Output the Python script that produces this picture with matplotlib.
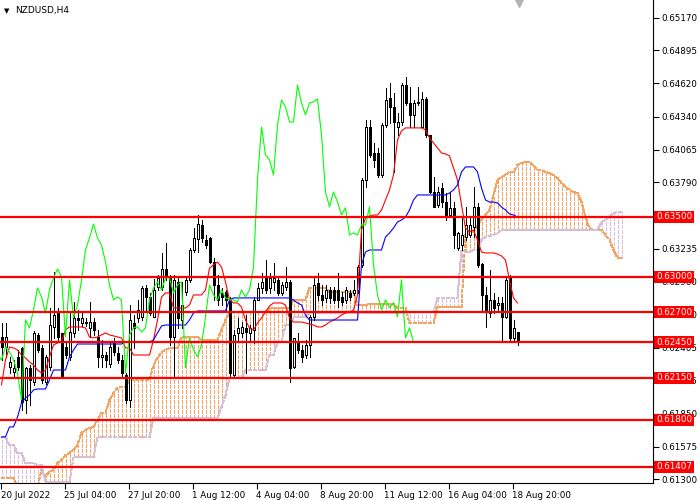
import matplotlib
matplotlib.use("Agg")
import matplotlib.pyplot as plt
import matplotlib.transforms as mtransforms
import numpy as np

# ---------------- data (NZDUSD H4) ----------------
open_ = [
    .62494,.62410,.62243,.62201,.62327,.62403,.61966,.62235,.62117,.62511,
    .62403,.62117,.62243,.62578,.62696,.62528,.62410,.62327,.62528,.62654,
    .62612,.62620,.62570,.62620,.62494,.62327,.62344,.62268,.62452,.62361,
    .62302,.62176,.61966,.62612,.62654,.62662,.62905,.62830,.62662,.62914,
    .62914,.63064,.62989,.62494,.62955,.62637,.62872,.62972,.63224,.63316,
    .63433,.63307,.63324,.63123,.62930,.62863,.62872,.62805,.62176,.62528,
    .62528,.62570,.62528,.62553,.62805,.62905,.62997,.62905,.62955,.62972,
    .62863,.62914,.62955,.62243,.62444,.62386,.62344,.62427,.62662,.62947,
    .62847,.62822,.62888,.62888,.62888,.62830,.62805,.62863,.62863,.62888,
    .63098,.63810,.64254,.64037,.64037,.63852,.64271,.64497,.64422,.64254,
    .64296,.64606,.64455,.64355,.64455,.64254,.64489,.64187,.63709,.63601,
    .63743,.63626,.63517,.63576,.63240,.63265,.63333,.63349,.63416,.63584,
    .63106,.62847,.62696,.62805,.62763,.62780,.62662,.62989,.62486,.62536]
high = [
    .62612,.62612,.62327,.62302,.62386,.62410,.62243,.62260,.62545,.62528,
    .62427,.62344,.62738,.63039,.62738,.62528,.62444,.62696,.62788,.62721,
    .62696,.62654,.62788,.62654,.62553,.62469,.62369,.62452,.62486,.62410,
    .62344,.62193,.62763,.62679,.62805,.62922,.62930,.62863,.62981,.63014,
    .63198,.63282,.63014,.63014,.62989,.62955,.62989,.63240,.63408,.63517,
    .63475,.63349,.63333,.63156,.63014,.62905,.62888,.62830,.62553,.62654,
    .62620,.62679,.62595,.62830,.62947,.63031,.63140,.63031,.63114,.62989,
    .62955,.63081,.62972,.62486,.62528,.62427,.62469,.62679,.62989,.63031,
    .62930,.62930,.62914,.62914,.63031,.62872,.62914,.62888,.62972,.63098,
    .63827,.64313,.64313,.64120,.64078,.64288,.64581,.64623,.64539,.64372,
    .64623,.64673,.64589,.64480,.64589,.64547,.64506,.64187,.63835,.63751,
    .63785,.63701,.63709,.63626,.63374,.63500,.63584,.63500,.63751,.63617,
    .63114,.62914,.63056,.62863,.62830,.62830,.62989,.63014,.62637,.62536]
low = [
    .62302,.62327,.62193,.62159,.62218,.61883,.61858,.61924,.62092,.62369,
    .62109,.62101,.62218,.62486,.62469,.62151,.62319,.62302,.62494,.62553,
    .62587,.62587,.62494,.62511,.62243,.62243,.62243,.62243,.62344,.62277,
    .62159,.61941,.61908,.62403,.62620,.62637,.62721,.62679,.62662,.62888,
    .62888,.62972,.62427,.62159,.62570,.62570,.62847,.62955,.63207,.63207,
    .63290,.63240,.63114,.62805,.62763,.62763,.62721,.62151,.62151,.62469,
    .62494,.62193,.62469,.62444,.62805,.62863,.62863,.62863,.62888,.62847,
    .62847,.62888,.62117,.62235,.62361,.62285,.62319,.62327,.62637,.62805,
    .62763,.62788,.62780,.62780,.62746,.62763,.62780,.62805,.62847,.62863,
    .63081,.63751,.64003,.63919,.63835,.63835,.64254,.64288,.63877,.64187,
    .64271,.64439,.64254,.64254,.64439,.64246,.64170,.63701,.63584,.63584,
    .63584,.63475,.63500,.63240,.63224,.63224,.63307,.63333,.63333,.63081,
    .62721,.62578,.62662,.62696,.62721,.62469,.62654,.62469,.62469,.62427]
close = [
    .62410,.62494,.62285,.62235,.62243,.61949,.62235,.62134,.62528,.62386,
    .62134,.62327,.62595,.62679,.62494,.62159,.62344,.62536,.62654,.62637,
    .62654,.62612,.62620,.62553,.62327,.62344,.62302,.62410,.62369,.62302,
    .62193,.61966,.62637,.62570,.62721,.62905,.62830,.62696,.62888,.62989,
    .63064,.62997,.62494,.62972,.62654,.62763,.62972,.63224,.63324,.63441,
    .63324,.63265,.63123,.62930,.62805,.62830,.62805,.62193,.62511,.62570,
    .62578,.62536,.62570,.62805,.62905,.62955,.62888,.62989,.62989,.62863,
    .62930,.62955,.62235,.62486,.62386,.62327,.62427,.62662,.62930,.62847,
    .62805,.62888,.62822,.62805,.62805,.62788,.62888,.62830,.62888,.63081,
    .63810,.64254,.64020,.63978,.63852,.64271,.64480,.64422,.64296,.64296,
    .64606,.64455,.64355,.64455,.64464,.64489,.64187,.63709,.63584,.63709,
    .63626,.63517,.63576,.63349,.63366,.63349,.63433,.63433,.63584,.63098,
    .62847,.62721,.62805,.62738,.62780,.62662,.62972,.62486,.62570,.62452]

tenkan = [
    .62092,.62301,.62410,.62402,.62385,.62343,.62318,.62284,.62259,.62217,
    .62192,.62217,.62326,.62427,.62444,.62452,.62553,.62578,.62578,.62578,
    .62578,.62569,.62494,.62486,.62494,.62511,.62528,.62511,.62503,.62494,
    .62486,.62402,.62402,.62343,.62343,.62343,.62343,.62343,.62469,.62636,
    .62829,.62863,.62863,.62737,.62737,.62737,.62737,.62762,.62846,.62846,
    .62846,.62888,.63072,.63097,.63122,.63080,.62955,.62804,.62779,.62779,
    .62745,.62636,.62569,.62553,.62611,.62653,.62703,.62754,.62779,.62779,
    .62779,.62762,.62653,.62619,.62619,.62619,.62611,.62602,.62594,.62578,
    .62578,.62594,.62619,.62636,.62653,.62678,.62695,.62703,.62720,.62846,
    .63391,.63491,.63508,.63516,.63516,.63558,.63642,.63726,.63852,.64145,
    .64221,.64246,.64246,.64246,.64246,.64246,.64229,.64162,.64120,.64078,
    .64036,.64028,.64011,.63910,.63810,.63600,.63407,.63374,.63391,.63307,
    .63206,.63198,.63198,.63198,.63189,.63173,.63139,.62972,.62821,.62779]
kijun = [
    .61656,.61656,.61740,.61740,.61823,.61941,.61983,.62008,.62050,.62058,
    .62058,.62058,.62134,.62217,.62217,.62217,.62217,.62326,.62385,.62435,
    .62435,.62435,.62435,.62435,.62435,.62435,.62435,.62435,.62435,.62435,
    .62435,.62452,.62452,.62452,.62452,.62452,.62452,.62452,.62469,.62528,
    .62586,.62594,.62594,.62594,.62594,.62594,.62594,.62636,.62695,.62712,
    .62712,.62712,.62712,.62712,.62712,.62712,.62712,.62804,.62821,.62821,
    .62821,.62821,.62821,.62821,.62821,.62821,.62821,.62821,.62821,.62821,
    .62821,.62821,.62821,.62804,.62779,.62762,.62678,.62636,.62636,.62636,
    .62636,.62636,.62636,.62636,.62636,.62636,.62636,.62636,.62636,.62636,
    .63097,.63206,.63223,.63223,.63223,.63223,.63332,.63365,.63407,.63458,
    .63474,.63500,.63558,.63642,.63684,.63684,.63684,.63684,.63684,.63684,
    .63684,.63684,.63701,.63726,.63768,.63877,.63919,.63919,.63919,.63877,
    .63742,.63642,.63625,.63625,.63617,.63583,.63558,.63525,.63516,.63500]
span_a = [
    .61312,.61312,.61312,.61312,.61229,.61229,.61229,.61229,.61229,.61229,
    .61379,.61329,.61362,.61379,.61438,.61463,.61505,.61522,.61547,.61589,
    .61690,.61715,.61731,.61740,.61798,.61857,.61857,.61966,.62025,.62067,
    .62075,.62075,.62134,.62134,.62134,.62134,.62134,.62134,.62259,.62318,
    .62368,.62385,.62402,.62402,.62402,.62494,.62494,.62494,.62494,.62494,
    .62469,.62469,.62469,.62469,.62469,.62553,.62636,.62703,.62703,.62703,
    .62703,.62703,.62703,.62703,.62703,.62703,.62703,.62737,.62737,.62737,
    .62737,.62737,.62737,.62804,.62804,.62804,.62804,.62905,.62905,.62905,
    .62905,.62905,.62871,.62871,.62871,.62871,.62871,.62871,.62871,.62762,
    .62762,.62762,.62770,.62770,.62770,.62770,.62770,.62770,.62770,.62737,
    .62737,.62737,.62611,.62611,.62611,.62611,.62611,.62611,.62611,.62745,
    .62745,.62745,.62745,.62745,.62745,.62745,.63349,.63365,.63374,.63432,
    .63474,.63516,.63558,.63684,.63810,.63835,.63852,.63877,.63877,.63935,
    .63952,.63960,.63960,.63935,.63893,.63893,.63877,.63868,.63852,.63826,
    .63784,.63751,.63726,.63709,.63701,.63625,.63500,.63407,.63391,.63391,
    .63391,.63349,.63307,.63223,.63156,.63156]
span_b = [
    .61656,.61656,.61589,.61589,.61522,.61522,.61438,.61438,.61438,.61421,
    .61421,.61279,.61279,.61279,.61279,.61279,.61279,.61279,.61488,.61488,
    .61488,.61488,.61488,.61488,.61656,.61656,.61656,.61656,.61656,.61656,
    .61656,.61656,.61656,.61656,.61656,.61656,.61656,.61656,.61815,.61815,
    .61815,.61815,.61815,.61815,.61815,.61815,.61815,.61815,.61815,.61815,
    .61815,.61815,.61815,.61815,.61815,.61907,.62008,.62150,.62150,.62150,
    .62150,.62217,.62217,.62217,.62217,.62217,.62217,.62343,.62343,.62452,
    .62452,.62594,.62594,.62661,.62661,.62661,.62661,.62695,.62695,.62695,
    .62695,.62695,.62695,.62695,.62695,.62695,.62695,.62695,.62695,.62695,
    .62695,.62695,.62695,.62695,.62695,.62695,.62695,.62695,.62695,.62695,
    .62695,.62695,.62703,.62703,.62703,.62703,.62703,.62703,.62703,.62821,
    .62821,.62821,.62821,.62821,.62821,.63223,.63206,.63206,.63223,.63223,
    .63307,.63332,.63340,.63349,.63365,.63391,.63391,.63391,.63391,.63391,
    .63391,.63391,.63391,.63391,.63391,.63391,.63391,.63391,.63391,.63391,
    .63391,.63391,.63391,.63391,.63391,.63391,.63391,.63391,.63391,.63391,
    .63458,.63474,.63500,.63533,.63542,.63542]

levels = [0.63500, 0.63000, 0.62700, 0.62450, 0.62150, 0.61800, 0.61407]
level_labels = ["0.63500", "0.63000", "0.62700", "0.62450", "0.62150", "0.61800", "0.61407"]
price_ticks = [0.65170, 0.64895, 0.64620, 0.64340, 0.64065, 0.63790, 0.63235,
               0.62960, 0.62680, 0.62405, 0.62125, 0.61850, 0.61575, 0.61300]
time_labels = ["20 Jul 2022", "25 Jul 04:00", "27 Jul 20:00", "1 Aug 12:00", "4 Aug 04:00",
               "8 Aug 20:00", "11 Aug 12:00", "16 Aug 04:00", "18 Aug 20:00"]
time_tick_bars = [0, 16, 32, 48, 64, 80, 96, 112, 128]
chikou_shift = 26

# ---------------- figure ----------------
W, H = 700, 500
fig = plt.figure(figsize=(7, 5), dpi=100)
fig.patch.set_facecolor("white")
ax = fig.add_axes([0, 17 / H, 653 / W, 483 / H])
ax.set_facecolor("white")

o = np.array(open_); h = np.array(high); l = np.array(low); c = np.array(close)
xb = np.arange(len(c))
xs = np.arange(len(span_a))
sa = np.array(span_a); sb = np.array(span_b)

ORANGE = "#F4A460"
THISTLE = "#D8BFD8"
PX = 0.72  # one pixel in points at 100 dpi
dash = (0, (3, 2))

# cloud columns
up = sa >= sb
lo_c = np.minimum(sa, sb); hi_c = np.maximum(sa, sb)
ax.vlines(xs[up], lo_c[up], hi_c[up], color=ORANGE, linewidth=PX,
          linestyle=dash, antialiased=False, zorder=1)
ax.vlines(xs[~up], lo_c[~up], hi_c[~up], color=THISTLE, linewidth=PX,
          linestyle=dash, antialiased=False, zorder=1)
ax.plot(xs, sa, color=ORANGE, lw=PX, ls=dash, antialiased=False, zorder=1.2)
ax.plot(xs, sb, color=THISTLE, lw=PX, ls=dash, antialiased=False, zorder=1.2)

# candles
ax.vlines(xb, l, h, color="black", linewidth=PX, antialiased=False, zorder=3)
bull = c >= o
face = ["white" if b else "black" for b in bull]
ax.bar(xb, np.abs(c - o), bottom=np.minimum(o, c), width=0.5, color=face,
       edgecolor="black", linewidth=PX, antialiased=False, zorder=4)

# ichimoku lines
ax.plot(xb, tenkan, color="#FF0000", lw=0.8, zorder=5)
ax.plot(xb, kijun, color="#0000FF", lw=0.8, zorder=5)
ax.plot(xb - chikou_shift, c, color="#00FF00", lw=0.8, zorder=5)

# horizontal levels and labels
blend = mtransforms.blended_transform_factory(ax.transAxes, ax.transData)
for lv, lab in zip(levels, level_labels):
    ax.axhline(lv, color="#FF0000", lw=1.6, zorder=6)
    ax.text(1.0045, lv, lab, transform=blend, ha="left", va="center",
            color="white", fontsize=6.3, zorder=20, clip_on=False,
            bbox=dict(boxstyle="square,pad=0.18", fc="#FF0000", ec="none"))

ax.set_xlim(-0.375, 162.875)
ax.set_ylim(0.61270, 0.65318)

# axes styling
for s in ["top", "left"]:
    ax.spines[s].set_visible(False)
for s in ["right", "bottom"]:
    ax.spines[s].set_color("black")
    ax.spines[s].set_linewidth(0.8)

ax.yaxis.tick_right()
ax.set_yticks(price_ticks)
ax.set_yticklabels([f"{v:.5f}" for v in price_ticks])
ax.tick_params(axis="y", direction="out", length=4, width=0.8, pad=2,
               labelsize=6.3, colors="black")

ax.set_xticks([b - 0.25 for b in time_tick_bars])
ax.set_xticklabels(time_labels)
for t in ax.get_xticklabels():
    t.set_ha("left")
ax.tick_params(axis="x", direction="out", length=4, width=0.8, pad=1.5,
               labelsize=6.3, colors="black")

# chart shift marker
tri = mtransforms.blended_transform_factory(ax.transData, ax.transAxes)
ax.plot([129.25], [0.994], marker="v", color="#B4B4B4", markersize=6,
        transform=tri, clip_on=False, zorder=20)

# title
fig.text(4 / W, 1 - 11 / H, "\u25bc", fontsize=5, va="center", ha="left", color="black")
fig.text(15 / W, 1 - 11 / H, "NZDUSD,H4", fontsize=6.5, va="center", ha="left", color="black")

fig.savefig("out.png", dpi=100, facecolor="white")
